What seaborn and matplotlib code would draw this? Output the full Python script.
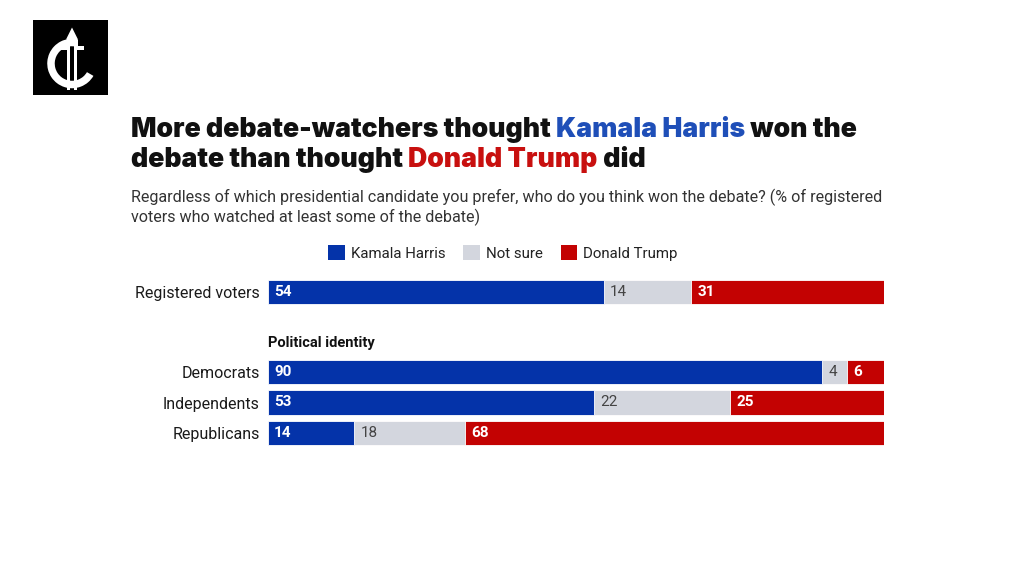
import matplotlib
matplotlib.use("Agg")
import matplotlib.pyplot as plt
import seaborn as sns
import pandas as pd
import numpy as np
from matplotlib.patches import Rectangle, Patch, Wedge, Polygon

# ---- data ----
groups_top = ["Registered voters"]
groups_pol = ["Democrats", "Independents", "Republicans"]
harris = [54, 90, 53, 14]
not_sure = [14, 4, 22, 18]
trump = [31, 6, 25, 68]
series_names = ["Kamala Harris", "Not sure", "Donald Trump"]

BLUE = "#0433a9"
GRAY = "#d3d6de"
RED = "#c30202"
colors = [BLUE, GRAY, RED]

sns.set_theme(style="white")
plt.rcParams["font.family"] = ["Roboto", "DejaVu Sans"]

groups = groups_top + groups_pol
df = pd.DataFrame({"group": groups, "Kamala Harris": harris,
                   "Not sure": not_sure, "Donald Trump": trump})
tot = df[series_names].sum(axis=1)
for s in series_names:
    df[s + "_pct"] = df[s] / tot * 100
df["c1"] = df["Kamala Harris_pct"]
df["c2"] = df["c1"] + df["Not sure_pct"]
df["c3"] = df["c2"] + df["Donald Trump_pct"]

W, H = 1024, 576
fig = plt.figure(figsize=(W / 100, H / 100), dpi=100)
fig.patch.set_facecolor("white")

def fx(px):
    return px / W

def fy(py):
    return 1 - py / H

x0, x1 = 268, 884
ax1 = fig.add_axes([fx(x0), fy(307), fx(x1 - x0), 30 / H])
ax2 = fig.add_axes([fx(x0), fy(448.25), fx(x1 - x0), 91.5 / H])

def draw(ax, sub):
    for col, c in zip(["c3", "c2", "c1"], [RED, GRAY, BLUE]):
        sns.barplot(data=sub, x=col, y="group", color=c, orient="h",
                    width=0.8, ax=ax, saturation=1, edgecolor="white",
                    linewidth=0.6)
    ax.set_xlim(0, 100)
    ax.set_xlabel("")
    ax.set_ylabel("")
    ax.set_xticks([])
    ax.tick_params(axis="y", length=0, pad=6, labelsize=11.5, labelcolor="#1a1a1a")
    for sp in ax.spines.values():
        sp.set_visible(False)
    ax.set_facecolor("none")
    for i, (_, r) in enumerate(sub.iterrows()):
        starts = [0, r["c1"], r["c2"]]
        vals = [r["Kamala Harris"], r["Not sure"], r["Donald Trump"]]
        for st, v, c in zip(starts, vals, colors):
            tc = "white" if c != GRAY else "#444444"
            fw = "bold" if c != GRAY else "normal"
            ax.text(st + 1.0, i, f"{v}", va="center", ha="left",
                    fontsize=11, color=tc, fontweight=fw)

draw(ax1, df.iloc[:1].reset_index(drop=True))
draw(ax2, df.iloc[1:].reset_index(drop=True))

fig.text(fx(268), fy(343), "Political identity", fontsize=10.5,
         fontweight="bold", color="#111111", ha="left", va="center")

handles = [Patch(facecolor=c, edgecolor="none") for c in colors]
fig.legend(handles, series_names, loc="center", bbox_to_anchor=(fx(503), fy(253)),
           ncol=3, frameon=False, handlelength=1.1, handleheight=1.1,
           handletextpad=0.4, columnspacing=1.2, fontsize=10.8,
           labelcolor="#222222")

fig.canvas.draw()
renderer = fig.canvas.get_renderer()
title_kw = dict(fontsize=19.2, fontweight="black", va="baseline", ha="left",
                family=["Inter", "DejaVu Sans"])
def draw_line(parts, y):
    x = fx(131)
    for txt, col in parts:
        t = fig.text(x, y, txt, color=col, **title_kw)
        bb = t.get_window_extent(renderer=renderer)
        x += bb.width / W
line1 = [("More debate-watchers thought ", "#111111"),
         ("Kamala Harris", "#1f4fb8"), (" won the", "#111111")]
line2 = [("debate than thought ", "#111111"),
         ("Donald Trump", "#c8100f"), (" did", "#111111")]
draw_line(line1, fy(137))
draw_line(line2, fy(167))

fig.text(fx(131), fy(197),
         "Regardless of which presidential candidate you prefer, who do you think won the debate? (% of registered",
         fontsize=11.6, color="#333333", ha="left", va="center")
fig.text(fx(131), fy(217), "voters who watched at least some of the debate)",
         fontsize=11.6, color="#333333", ha="left", va="center")

# logo (simple drawn mark)
lax = fig.add_axes([fx(33), fy(95), fx(75), 75 / H])
lax.set_xlim(0, 1)
lax.set_ylim(0, 1)
lax.axis("off")
nk = dict(edgecolor="none", linewidth=0)
lax.add_patch(Rectangle((0, 0), 1, 1, facecolor="black", **nk))
lax.add_patch(Wedge((0.52, 0.42), 0.33, 20, 330, width=0.1, facecolor="white", **nk))
lax.add_patch(Rectangle((0.6, 0.48), 0.35, 0.4, facecolor="black", **nk))
lax.add_patch(Polygon([[0.44, 0.74], [0.52, 0.9], [0.6, 0.74]], facecolor="white", **nk))
lax.add_patch(Rectangle((0.45, 0.07), 0.045, 0.68, facecolor="white", **nk))
lax.add_patch(Rectangle((0.545, 0.07), 0.045, 0.68, facecolor="white", **nk))
lax.add_patch(Rectangle((0.36, 0.6), 0.09, 0.05, facecolor="white", **nk))
lax.add_patch(Rectangle((0.59, 0.6), 0.09, 0.05, facecolor="white", **nk))

fig.savefig("out.png", dpi=100, facecolor="white")
